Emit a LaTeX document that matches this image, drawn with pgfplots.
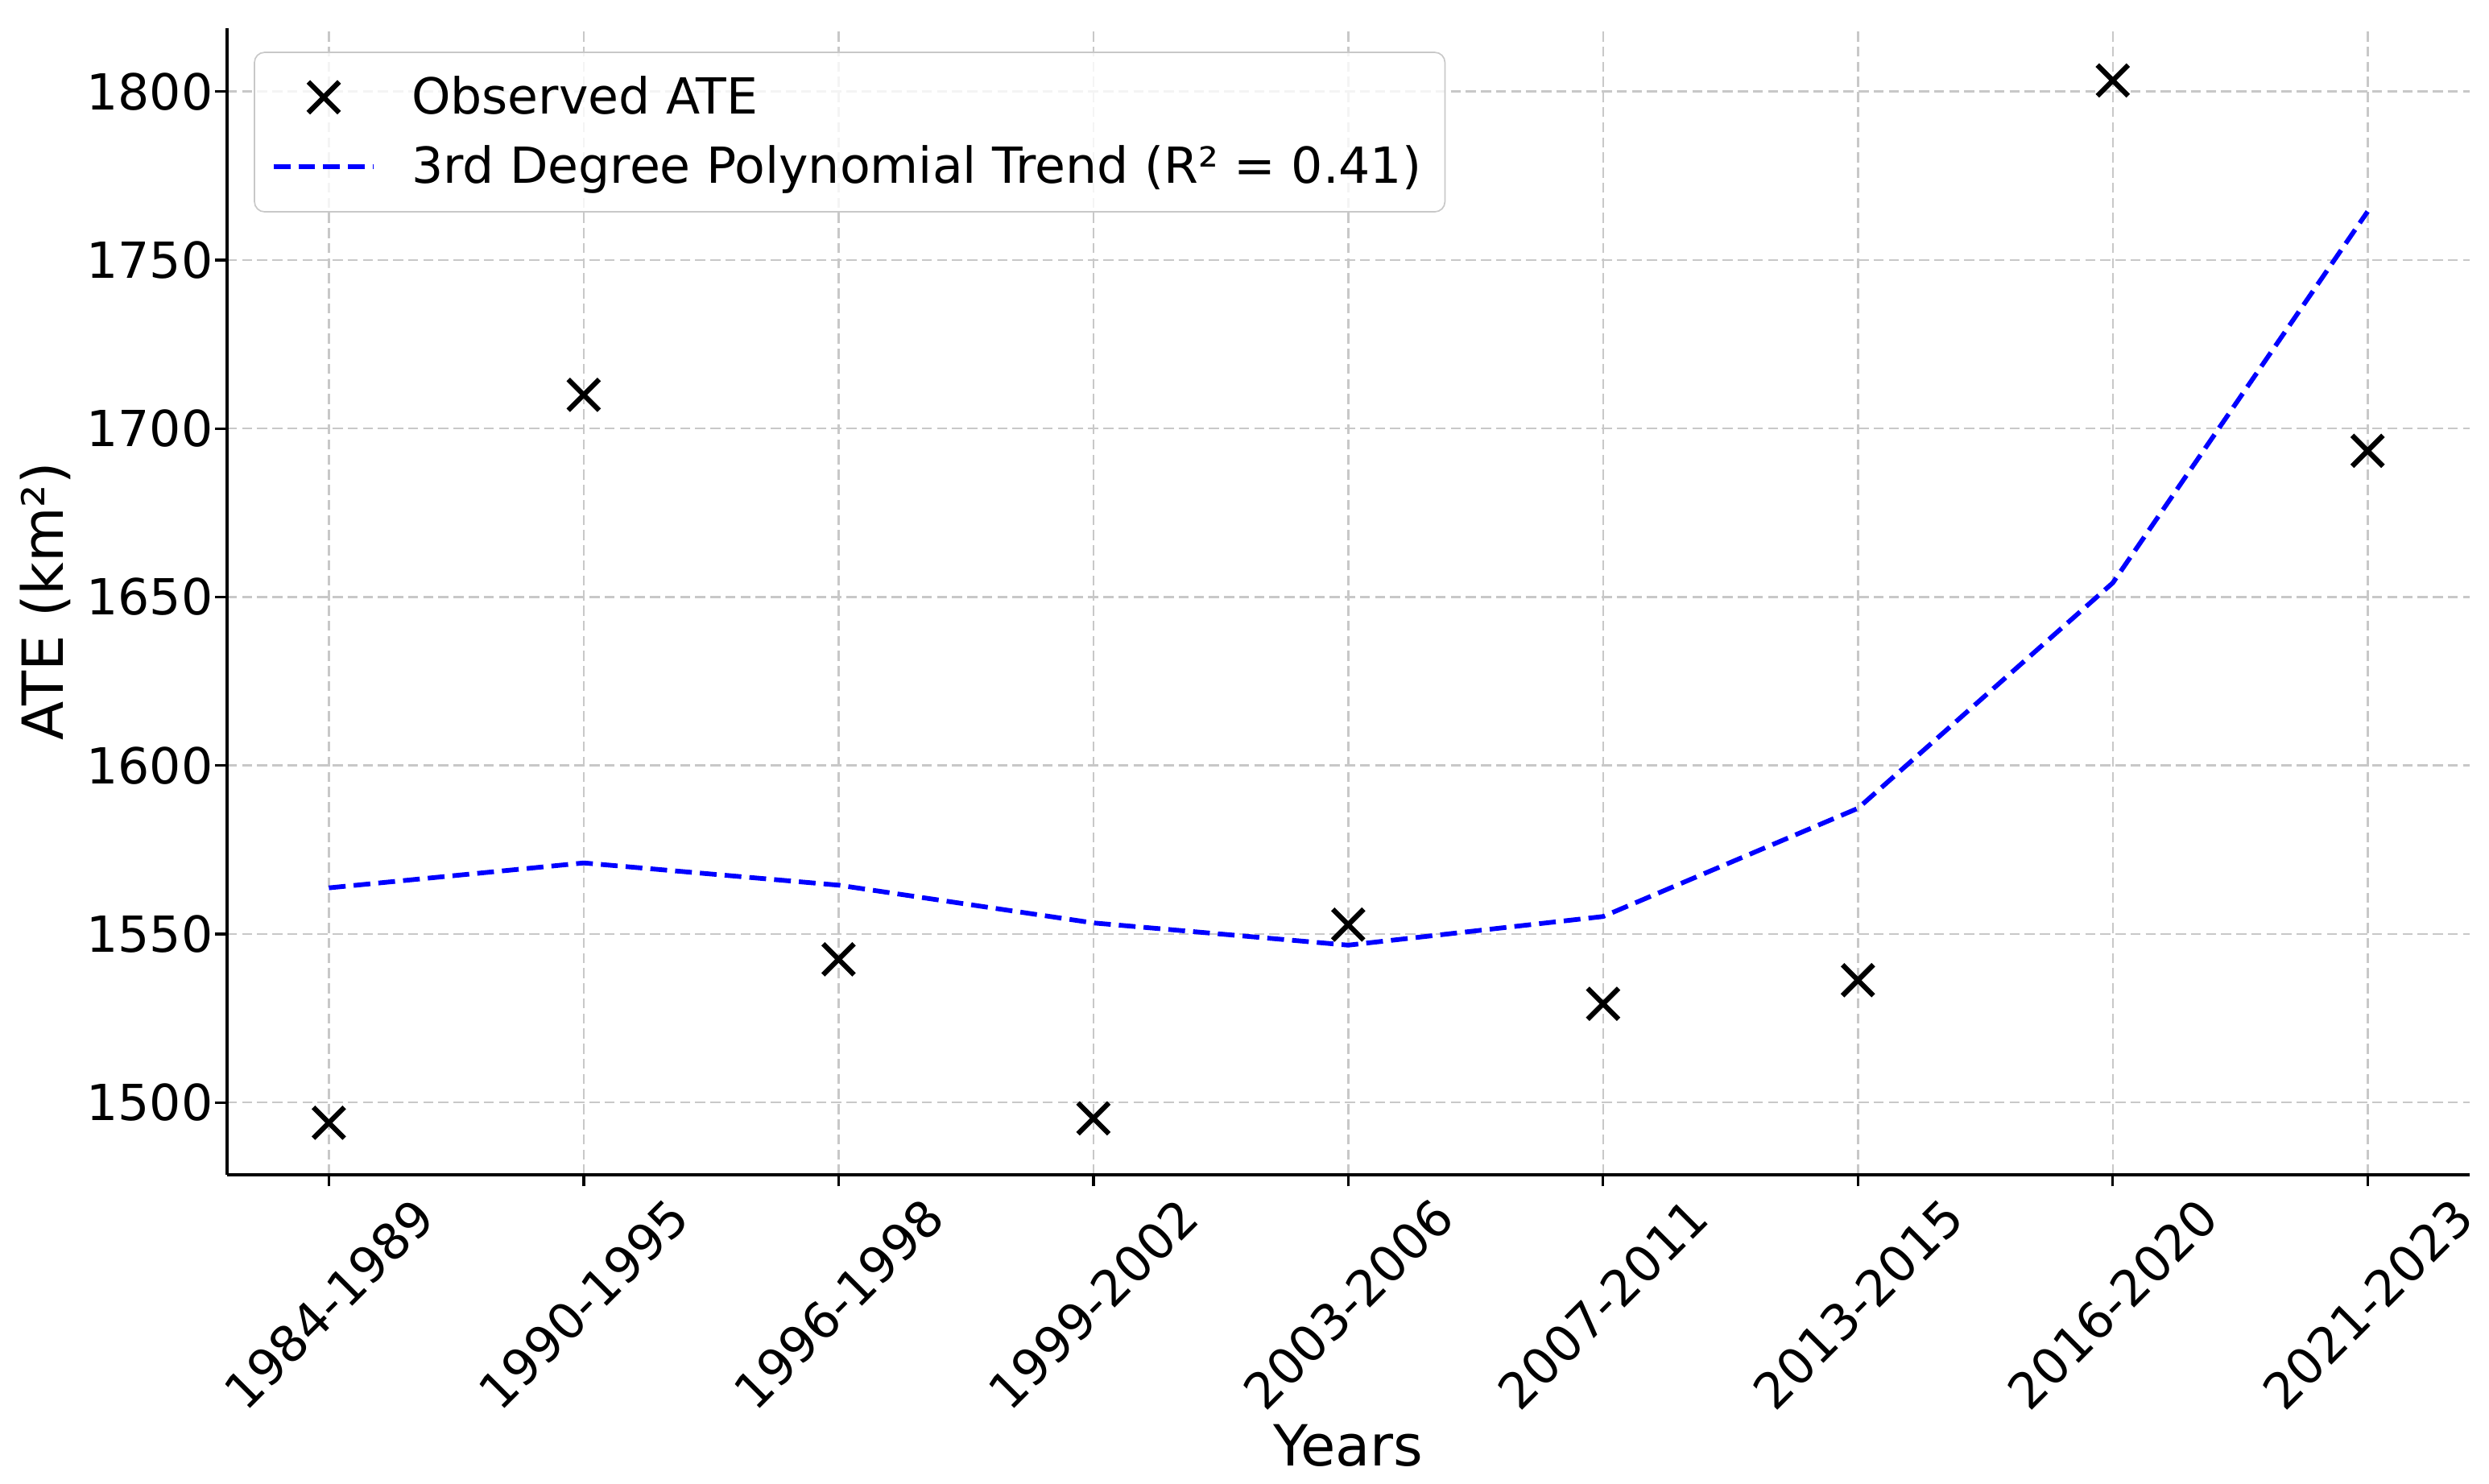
\documentclass[border=0pt]{standalone}
\usepackage{pgfplots}
\pgfplotsset{compat=1.18}
\usepackage{fontspec}
\setmainfont{DejaVu Sans}
\definecolor{gridgray}{RGB}{200,200,200}
\pgfplotsset{
  markleg/.style={legend image code/.code={\draw[##1] plot coordinates {(0.525cm,0cm)};}},
  lineleg/.style={legend image code/.code={\draw[##1] (0cm,0cm) -- (1.05cm,0cm);}},
}
\begin{document}
\begin{tikzpicture}
\begin{axis}[
  scale only axis,
  width=668pt, height=341.5pt,
  xmin=-0.4, xmax=8.4,
  ymin=1478.6, ymax=1818.8,
  axis x line*=bottom, axis y line*=left,
  axis line style={line width=0.9pt, black},
  xtick={0,...,8},
  xticklabels={1984-1989,1990-1995,1996-1998,1999-2002,2003-2006,2007-2011,2013-2015,2016-2020,2021-2023},
  ytick={1500,1550,1600,1650,1700,1750,1800},
  tick align=outside,
  major tick length=3.5pt,
  tick style={line width=0.8pt, black},
  /pgf/number format/assume math mode=true,
  /pgf/number format/1000 sep={},
  ticklabel style={font=\fontsize{14.8}{17}\selectfont},
  yticklabel style={inner xsep=0.5pt},
  xticklabel style={anchor=center, yshift=-35pt, rotate=45},
  grid=major,
  major grid style={gridgray, line width=0.6pt, dash pattern=on 3pt off 1.5pt},
  xlabel={Years}, ylabel={ATE (km²)},
  label style={font=\fontsize{16.9}{20}\selectfont},
  xlabel style={at={(axis description cs:0.5,0)}, anchor=north, yshift=-71pt},
  ylabel style={at={(axis description cs:0,0.5)}, anchor=south, yshift=43pt},
  legend style={at={(axis description cs:0,1)}, anchor=north west, xshift=8pt, yshift=-7pt,
    font=\fontsize{14.8}{18}\selectfont, draw=gridgray, fill=white, fill opacity=0.8, text opacity=1,
    rounded corners=3pt, inner xsep=5pt, inner ysep=5pt, row sep=4pt, cells={anchor=west}},
  legend cell align=left,
]
\addplot[only marks, mark=x, mark size=6.5pt, mark options={line width=1.5pt, black}, markleg] coordinates {
(0,1494.0) (1,1710.0) (2,1542.5) (3,1495.3) (4,1552.8) (5,1529.3) (6,1536.3) (7,1803.3) (8,1693.4)};
\addlegendentry{\hspace{8.5pt}Observed ATE}
\addplot[blue, line width=1.4pt, dash pattern=on 5pt off 2.4pt, lineleg] coordinates {
(0,1563.7) (1,1571.1) (2,1564.5) (3,1553.3) (4,1546.7) (5,1555.2) (6,1587.3) (7,1654.2) (8,1764.4)};
\addlegendentry{\hspace{8.5pt}3rd Degree Polynomial Trend (R² = 0.41)}
\end{axis}
\pgfresetboundingbox
\path[use as bounding box] ([shift={(-67.6pt,-92pt)}]current axis.south west) rectangle ([shift={(5.8pt,8.4pt)}]current axis.north east);
\end{tikzpicture}
\end{document}
